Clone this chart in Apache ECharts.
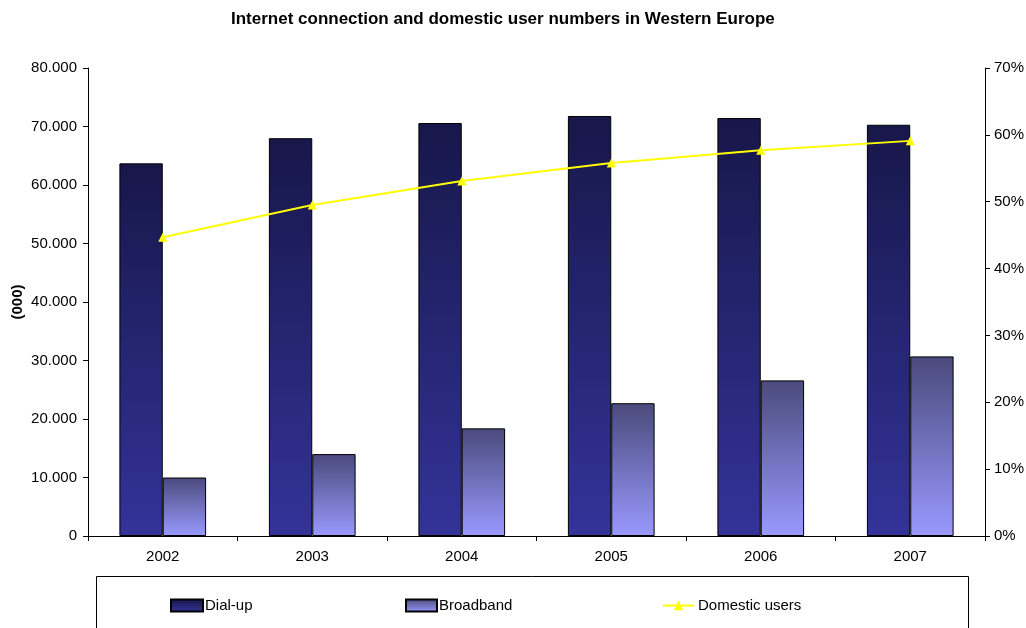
<!DOCTYPE html>
<html>
<head>
<meta charset="utf-8">
<script src="https://cdn.jsdelivr.net/npm/echarts@6/dist/echarts.min.js"></script>
<style>
  html, body { margin: 0; padding: 0; background: #fff; }
  #chart { width: 1026px; height: 628px; }
</style>
</head>
<body>
<div id="chart"></div>
<script>
// Years on the category axis
var years = ['2002', '2003', '2004', '2005', '2006', '2007'];
// Connections, thousands
var dialUp = [63700, 68000, 70600, 71800, 71450, 70300];
var broadband = [10000, 14000, 18400, 22700, 26600, 30700];
// Share of domestic users
var domesticUsers = [0.447, 0.495, 0.531, 0.558, 0.577, 0.591];

var FONT = '"Liberation Sans", Arial, sans-serif';

function grad(top, bottom) {
  return new echarts.graphic.LinearGradient(0, 0, 0, 1, [
    { offset: 0, color: top },
    { offset: 1, color: bottom }
  ]);
}
var dialFill = grad('#17174a', '#333399');
var broadFill = grad('#4a4a7c', '#9999ff');

function thousands(v) {
  return String(v).replace(/\B(?=(\d{3})+(?!\d))/g, '.');
}

var chart = echarts.init(document.getElementById('chart'), null, { renderer: 'canvas' });

function legendAt(left, name, extra) {
  return Object.assign({
    left: left,
    top: 598,
    padding: 0,
    itemWidth: 32,
    itemHeight: 12,
    data: [name],
    textStyle: { fontFamily: FONT, fontSize: 15, color: '#000', padding: [0, 0, 0, -3] }
  }, extra || {});
}

chart.setOption({
  animation: false,
  backgroundColor: '#fff',
  title: {
    text: 'Internet connection and domestic user numbers in Western Europe',
    left: 226,
    top: 6,
    textStyle: { fontFamily: FONT, fontSize: 17, fontWeight: 'bold', color: '#000' }
  },
  graphic: [{
    type: 'rect',
    shape: { x: 96.5, y: 576.5, width: 872, height: 60 },
    style: { fill: 'none', stroke: '#000', lineWidth: 1 },
    z: 0
  }],
  legend: [
    legendAt(170, 'Dial-up', { icon: 'rect' }),
    legendAt(405, 'Broadband', { icon: 'rect', itemWidth: 31 }),
    legendAt(662, 'Domestic users', {
      itemWidth: 31,
      textStyle: { fontFamily: FONT, fontSize: 15, color: '#000', padding: [0, 0, 0, -1] }
    })
  ],
  grid: { left: 88, right: 41, top: 68, bottom: 92, containLabel: false, outerBoundsMode: 'none' },
  xAxis: {
    type: 'category',
    data: years,
    axisLine: { lineStyle: { color: '#000', width: 1 } },
    axisTick: { show: true, length: 5, lineStyle: { color: '#000' } },
    axisLabel: { fontFamily: FONT, fontSize: 15, color: '#000', margin: 13 }
  },
  yAxis: [{
    type: 'value',
    min: 0, max: 80000, interval: 10000,
    name: '(000)',
    nameLocation: 'middle',
    nameGap: 63,
    nameMoveOverlap: false,
    nameRotate: 90,
    nameTextStyle: { fontFamily: FONT, fontSize: 15, fontWeight: 'bold', color: '#000' },
    axisLine: { show: true, lineStyle: { color: '#000' } },
    axisTick: { show: true, length: 5, lineStyle: { color: '#000' } },
    splitLine: { show: false },
    axisLabel: { fontFamily: FONT, fontSize: 15, color: '#000', margin: 11, formatter: thousands }
  }, {
    type: 'value',
    min: 0, max: 0.7, interval: 0.1,
    position: 'right',
    axisLine: { show: true, lineStyle: { color: '#000' } },
    axisTick: { show: true, length: 5, lineStyle: { color: '#000' } },
    splitLine: { show: false },
    axisLabel: {
      fontFamily: FONT, fontSize: 15, color: '#000', margin: 9,
      formatter: function (v) { return Math.round(v * 100) + '%'; }
    }
  }],
  series: [{
    name: 'Dial-up',
    type: 'bar',
    data: dialUp,
    barGap: '0%',
    barCategoryGap: '42%',
    itemStyle: { color: dialFill, borderColor: '#000', borderWidth: 1 }
  }, {
    name: 'Broadband',
    type: 'bar',
    data: broadband,
    itemStyle: { color: broadFill, borderColor: '#000', borderWidth: 1 }
  }, {
    name: 'Domestic users',
    type: 'line',
    yAxisIndex: 1,
    data: domesticUsers,
    symbol: 'triangle',
    symbolSize: 9,
    lineStyle: { color: '#ffff00', width: 2 },
    itemStyle: { color: '#ffff00' },
    z: 5
  }]
});
</script>
</body>
</html>
